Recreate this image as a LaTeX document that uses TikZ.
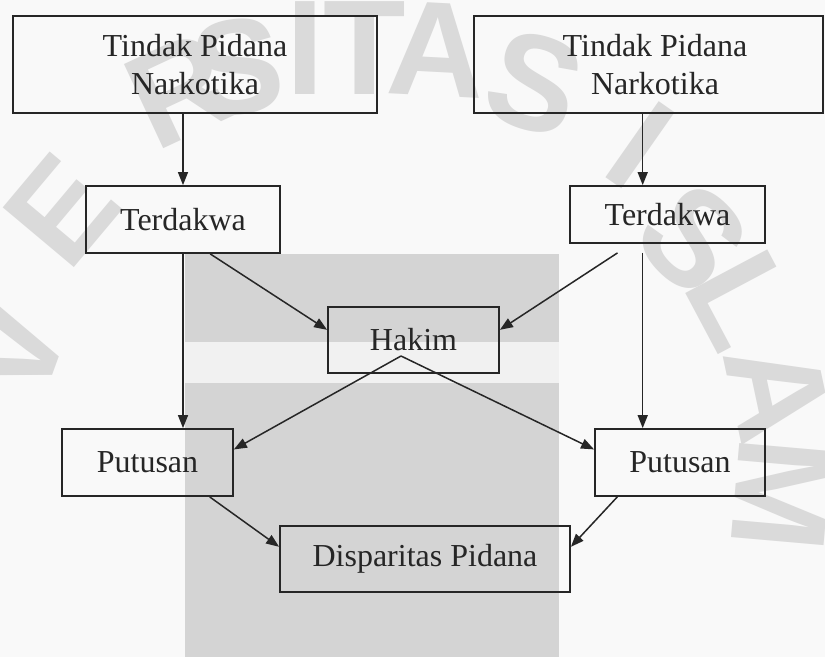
\documentclass[tikz,border=0pt]{standalone}
\usepackage{fontspec}
\setmainfont{Liberation Serif}
\newfontfamily\wmfont{Liberation Sans}
\usetikzlibrary{arrows.meta,calc}
\definecolor{ink}{HTML}{262626}
\definecolor{wm}{HTML}{DADADA}
\definecolor{band}{HTML}{D4D4D4}
\definecolor{lightband}{HTML}{F1F1F1}
\definecolor{bg}{HTML}{F9F9F9}
\begin{document}
\begin{tikzpicture}[x=1bp,y=-1bp,
  box/.style={draw=ink, line width=1.8bp, inner sep=0pt, align=center, text=ink,
    font=\fontsize{32bp}{38bp}\selectfont},
  arr/.style={draw=ink, line width=1.5bp, -{Triangle[length=13bp,width=10bp]}},
  wmletter/.style={text=wm, inner sep=0pt, font=\wmfont\bfseries\fontsize{135bp}{135bp}\selectfont}]
\useasboundingbox (0,0) rectangle (825,657);
% background and watermark
\fill[bg] (0,0) rectangle (825,657);
\fill[band] (185,254) rectangle (559,342);
\fill[lightband] (185,342) rectangle (559,383);
\fill[band] (185,383) rectangle (559,657);
\node[wmletter, rotate=70] (wmV) at (12,350) {V};
\node[wmletter, rotate=50] (wmE) at (62,210) {E};
\node[wmletter, rotate=25] (wmR) at (180,90) {R};
\node[wmletter, rotate=8] (wmS1) at (238,67) {S};
\node[wmletter] (wmI1) at (305,48) {I};
\node[wmletter] (wmT) at (365,48) {T};
\node[wmletter, rotate=-3] (wmA1) at (437,50) {A};
\node[wmletter, rotate=-18] (wmS2) at (535,83) {S};
\node[wmletter, rotate=-35] (wmI2) at (640,145) {I};
\node[wmletter, rotate=-45] (wmS3) at (693,238) {S};
\node[wmletter, rotate=-62] (wmL) at (742,300) {L};
\node[wmletter, rotate=-78] (wmA2) at (778,392) {A};
\node[wmletter, rotate=-95] (wmM) at (782,495) {M};
% boxes
\node[box, minimum width=364bp, minimum height=97bp] (tl) at (195,64.5) {Tindak Pidana\\Narkotika};
\node[box, minimum width=349bp, minimum height=97bp] (tr) at (648.5,64.5) {\hspace*{13bp}Tindak Pidana\\\hspace*{13bp}Narkotika};
\node[box, minimum width=194bp, minimum height=67bp] (lterd) at (183,219.5) {Terdakwa};
\node[box, minimum width=195bp, minimum height=57bp] (rterd) at (667.5,214.5) {Terdakwa};
\node[box, minimum width=171bp, minimum height=66bp] (hakim) at (413.5,340) {Hakim};
\node[box, minimum width=171bp, minimum height=67bp] (lput) at (147.5,462.5) {Putusan};
\node[box, minimum width=170bp, minimum height=67bp] (rput) at (680,462.5) {Putusan};
\node[box, minimum width=290bp, minimum height=66bp] (disp) at (425,559) {Disparitas Pidana};
% helper points
\coordinate (rv) at ($(rterd.south west)!0.374!(rterd.south east)+(0,9)$);
\coordinate (rh) at ($(rterd.south west)!0.246!(rterd.south east)+(0,9)$);
\coordinate (hk) at ($(hakim.center)+(-12.5,16)$);
% connectors
\draw[arr] (tl.south -| lterd.north) -- (lterd.north);
\draw[arr] (rv |- tr.south) -- (rv |- rterd.north);
\draw[arr] ($(lterd.south west)!0.639!(lterd.south east)$) -- ($(hakim.north west)!0.35!(hakim.south west)$);
\draw[arr] (rh) -- ($(hakim.north east)!0.35!(hakim.south east)$);
\draw[arr] (lterd.south) -- (lterd.south |- lput.north);
\draw[arr] (rv) -- (rv |- rput.north);
\draw[arr] (hk) -- ($(lput.north east)!0.31!(lput.south east)$);
\draw[arr] (hk) -- ($(rput.north west)!0.31!(rput.south west)$);
\draw[arr] ($(lput.south west)!0.86!(lput.south east)$) -- ($(disp.north west)!0.32!(disp.south west)$);
\draw[arr] ($(rput.south west)!0.135!(rput.south east)$) -- ($(disp.north east)!0.32!(disp.south east)$);
\end{tikzpicture}
\end{document}
